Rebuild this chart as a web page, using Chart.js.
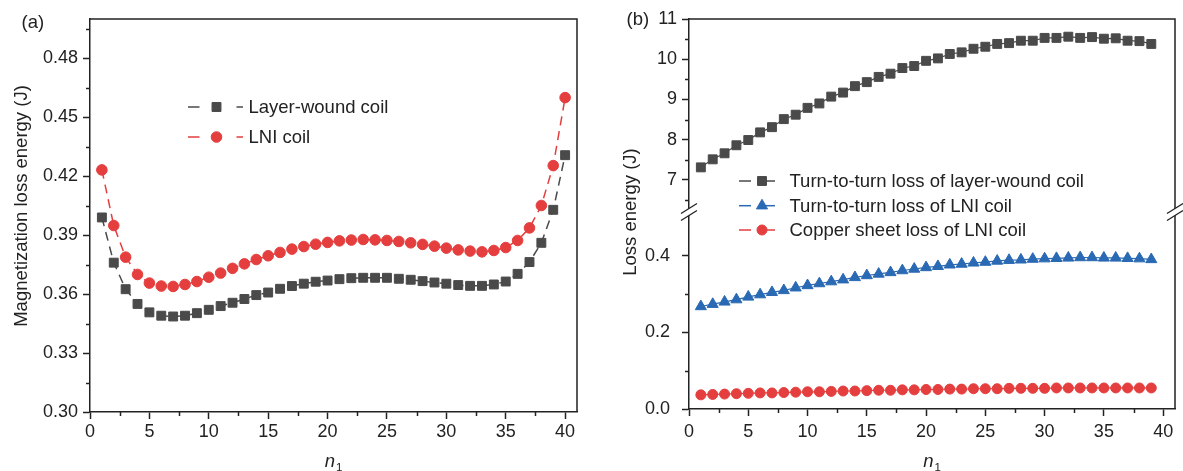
<!DOCTYPE html>
<html><head><meta charset="utf-8">
<script src="https://cdn.jsdelivr.net/npm/chart.js@4.4.0/dist/chart.umd.min.js"></script>
<style>
html,body{margin:0;padding:0;background:#fff;}
#wrap{position:relative;width:1183px;height:471px;overflow:hidden;background:#fff;}
#ca{position:absolute;left:0;top:0;}
#cb{position:absolute;left:590px;top:0;}
</style></head><body>
<div id="wrap"><canvas id="ca" width="590" height="471"></canvas><canvas id="cb" width="593" height="471"></canvas></div>
<script>
// ---------- data (panel a) ----------
const nA = [1,2,3,4,5,6,7,8,9,10,11,12,13,14,15,16,17,18,19,20,21,22,23,24,25,26,27,28,29,30,31,32,33,34,35,36,37,38,39,40];
const layerWoundMag = [0.3990,0.3760,0.3625,0.3550,0.3507,0.3490,0.3486,0.3490,0.3503,0.3520,0.3539,0.3556,0.3575,0.3595,0.3608,0.3627,0.3641,0.3653,0.3663,0.3669,0.3676,0.3681,0.3683,0.3683,0.3683,0.3678,0.3673,0.3666,0.3659,0.3653,0.3646,0.3642,0.3642,0.3649,0.3664,0.3703,0.3763,0.3861,0.4029,0.4307];
const lniMag = [0.4232,0.3949,0.3788,0.3700,0.3656,0.3641,0.3639,0.3649,0.3664,0.3686,0.3707,0.3731,0.3754,0.3776,0.3795,0.3812,0.3829,0.3842,0.3854,0.3863,0.3871,0.3875,0.3878,0.3876,0.3873,0.3868,0.3861,0.3853,0.3844,0.3834,0.3825,0.3819,0.3815,0.3822,0.3837,0.3873,0.3937,0.4051,0.4254,0.4600];
// ---------- data (panel b) ----------
const nB = [1,2,3,4,5,6,7,8,9,10,11,12,13,14,15,16,17,18,19,20,21,22,23,24,25,26,27,28,29,30,31,32,33,34,35,36,37,38,39];
const layerTurnLoss = [7.31,7.51,7.66,7.86,7.99,8.18,8.31,8.51,8.62,8.79,8.90,9.07,9.17,9.33,9.43,9.56,9.64,9.78,9.83,9.96,10.02,10.13,10.17,10.26,10.31,10.38,10.40,10.46,10.46,10.53,10.53,10.56,10.53,10.55,10.51,10.52,10.46,10.45,10.38];
const lniTurnLoss = [0.268,0.274,0.280,0.286,0.293,0.299,0.305,0.310,0.317,0.323,0.328,0.333,0.338,0.344,0.349,0.353,0.357,0.362,0.366,0.370,0.373,0.377,0.379,0.382,0.384,0.387,0.389,0.390,0.392,0.393,0.394,0.395,0.396,0.396,0.395,0.395,0.394,0.393,0.391];
const copperSheetLoss = [0.037,0.038,0.039,0.040,0.041,0.042,0.042,0.043,0.044,0.045,0.045,0.046,0.047,0.047,0.048,0.049,0.049,0.050,0.050,0.051,0.051,0.052,0.052,0.053,0.053,0.053,0.054,0.054,0.054,0.054,0.055,0.055,0.055,0.055,0.055,0.055,0.055,0.055,0.055];
// ---------- ticks ----------
const xMajorTicks = [0,5,10,15,20,25,30,35,40];
const xTickLabels = ['0','5','10','15','20','25','30','35','40'];
const xMinorTicks = [2.5,7.5,12.5,17.5,22.5,27.5,32.5,37.5];
const yMajorTicksA = [0.30,0.33,0.36,0.39,0.42,0.45,0.48];
const yTickLabelsA = ['0.30','0.33','0.36','0.39','0.42','0.45','0.48'];
const yMinorTicksA = [0.315,0.345,0.375,0.405,0.435,0.465,0.495];
const yMajorTicksBTop = [7,8,9,10,11];
const yTickLabelsBTop = ['7','8','9','10','11'];
const yMinorTicksBTop = [6.5,7.5,8.5,9.5,10.5];
const yMajorTicksBBot = [0,0.2,0.4];
const yTickLabelsBBot = ['0.0','0.2','0.4'];
const yMinorTicksBBot = [0.1,0.3];
// ---------- text ----------
const legendLabelsA = ['Layer-wound coil','LNI coil'];
const legendLabelsB = ['Turn-to-turn loss of layer-wound coil','Turn-to-turn loss of LNI coil','Copper sheet loss of LNI coil'];
const yTitleA = 'Magnetization loss energy (J)';
const yTitleB = 'Loss energy (J)';
const xTitleMain = 'n';
const xTitleSub = '1';
const panelLabels = ['(a)','(b)'];

// ---------- styling ----------
const FONT = '"Liberation Sans", Arial, "DejaVu Sans", sans-serif';
const AX = '#222222';
const TXT = '#222222';
const GRAY = '#4a4a4a';
const RED = '#e53e3e';
const BLUE = '#2a69b3';

function fixedTicks(values){ return s => { s.ticks = values.map(v => ({value: v})); }; }
function axisOpts(extra, values, labels, pad){
  return Object.assign({
    type: 'linear',
    border: {display: true, color: AX, width: 1.5},
    grid: {drawOnChartArea: false, drawTicks: true, tickLength: 7, tickColor: AX, tickWidth: 1.5},
    ticks: {autoSkip: false, maxRotation: 0, minRotation: 0, color: TXT, font: {family: FONT, size: 18}, padding: pad,
            callback: (v, i) => labels[i]},
    afterBuildTicks: fixedTicks(values)
  }, extra);
}
function yFit(w){ return s => { s.width = w; s.paddingTop = 0; s.paddingBottom = 0; }; }
function pts(xs, ys){ return xs.map((x, i) => ({x: x, y: ys[i]})); }
function ds(label, data, color, style, r, dash, bw, yAxisID){
  const d = {label, data, borderColor: color, backgroundColor: color, pointBackgroundColor: color,
    pointBorderColor: color, pointBorderWidth: 1, pointStyle: style, pointRadius: r, pointHoverRadius: r,
    borderWidth: bw, borderDash: dash, tension: 0, fill: false};
  if (yAxisID) d.yAxisID = yAxisID;
  return d;
}
function marker(ctx, style, r, x, y){
  if (Chart.helpers && Chart.helpers.drawPoint) {
    Chart.helpers.drawPoint(ctx, {pointStyle: style, radius: r, rotation: 0, borderWidth: 1}, x, y);
  }
}
function minorTicksPlugin(list){
  return {id: 'minorTicks', afterDraw(chart){
    const ctx = chart.ctx; ctx.save(); ctx.strokeStyle = AX; ctx.lineWidth = 1.5;
    list.forEach(({id, values}) => {
      const s = chart.scales[id];
      values.forEach(v => {
        const p = Math.round(s.getPixelForValue(v)) + 0.5;
        ctx.beginPath();
        if (s.isHorizontal()) { ctx.moveTo(p, s.top); ctx.lineTo(p, s.top + 4); }
        else { ctx.moveTo(s.right - 4, p); ctx.lineTo(s.right, p); }
        ctx.stroke();
      });
    });
    ctx.restore();
  }};
}
const framePlugin = {id: 'frame', afterDraw(chart){
  const a = chart.chartArea, ctx = chart.ctx;
  ctx.save(); ctx.strokeStyle = AX; ctx.lineWidth = 1.5;
  ctx.beginPath(); ctx.moveTo(a.left, a.top); ctx.lineTo(a.right, a.top); ctx.lineTo(a.right, a.bottom); ctx.stroke();
  ctx.restore();
}};
function legendPlugin(items){
  return {id: 'customLegend', afterDraw(chart){
    const ctx = chart.ctx;
    items.forEach(it => {
      ctx.save();
      ctx.strokeStyle = it.color; ctx.lineWidth = 1.5;
      it.segs.forEach(([a, b]) => { ctx.beginPath(); ctx.moveTo(a, it.y); ctx.lineTo(b, it.y); ctx.stroke(); });
      ctx.fillStyle = it.color; ctx.strokeStyle = it.color; ctx.lineWidth = 1;
      marker(ctx, it.style, it.r, it.mx, it.y);
      ctx.fillStyle = TXT; ctx.font = '18.5px ' + FONT; ctx.textBaseline = 'middle'; ctx.textAlign = 'left';
      ctx.fillText(it.label, it.tx, it.y + 1);
      ctx.restore();
    });
  }};
}
function titlesPlugin(cfg){
  return {id: 'titles', afterDraw(chart){
    const a = chart.chartArea, ctx = chart.ctx;
    ctx.save(); ctx.fillStyle = TXT;
    ctx.save(); ctx.translate(cfg.yBase, cfg.yCenter); ctx.rotate(-Math.PI / 2);
    ctx.font = '18.5px ' + FONT; ctx.textAlign = 'center'; ctx.textBaseline = 'alphabetic';
    ctx.fillText(cfg.yTitle, 0, 0); ctx.restore();
    ctx.font = 'italic 18.5px ' + FONT; const w1 = ctx.measureText(xTitleMain).width;
    ctx.font = '11.5px ' + FONT; const w2 = ctx.measureText(xTitleSub).width;
    const cx = (a.left + a.right) / 2; const x0 = cx - (w1 + w2 + 1) / 2;
    ctx.textAlign = 'left'; ctx.textBaseline = 'alphabetic';
    ctx.font = 'italic 18.5px ' + FONT; ctx.fillText(xTitleMain, x0, 466.5);
    ctx.font = '11.5px ' + FONT; ctx.fillText(xTitleSub, x0 + w1 + 1, 471);
    ctx.font = '18.5px ' + FONT; ctx.fillText(cfg.panel, cfg.px, cfg.py);
    ctx.restore();
  }};
}
const breakPlugin = {id: 'axisBreak', afterDraw(chart){
  const a = chart.chartArea, ctx = chart.ctx;
  const y = chart.scales.yTop.bottom;
  ctx.save();
  [a.left, a.right].forEach(x => {
    const hw = 8, hr = 5, off = 3.5;
    ctx.fillStyle = '#ffffff';
    ctx.beginPath();
    ctx.moveTo(x - hw, y - off + hr); ctx.lineTo(x + hw, y - off - hr);
    ctx.lineTo(x + hw, y + off - hr); ctx.lineTo(x - hw, y + off + hr); ctx.closePath(); ctx.fill();
    ctx.strokeStyle = AX; ctx.lineWidth = 1.3;
    ctx.beginPath(); ctx.moveTo(x - hw, y - off + hr); ctx.lineTo(x + hw, y - off - hr); ctx.stroke();
    ctx.beginPath(); ctx.moveTo(x - hw, y + off + hr); ctx.lineTo(x + hw, y + off - hr); ctx.stroke();
  });
  ctx.restore();
}};

// ---------- chart (a) ----------
new Chart(document.getElementById('ca').getContext('2d'), {
  type: 'line',
  data: {datasets: [
    ds(legendLabelsA[0], pts(nA, layerWoundMag), GRAY, 'rect', 6.3, [9, 6], 1.5),
    ds(legendLabelsA[1], pts(nA, lniMag), RED, 'circle', 5.3, [9, 6], 1.5)
  ]},
  options: {
    responsive: false, animation: false, devicePixelRatio: 1,
    layout: {padding: {left: 0, right: 13, top: 19, bottom: 0}},
    plugins: {legend: {display: false}, tooltip: {enabled: false}},
    scales: {
      x: axisOpts({min: 0, max: 41, position: 'bottom', afterFit: s => { s.height = 59; }}, xMajorTicks, xTickLabels, 2.5),
      y: axisOpts({min: 0.30, max: 0.50, position: 'left', afterFit: yFit(90)}, yMajorTicksA, yTickLabelsA, 5)
    }
  },
  plugins: [framePlugin,
    minorTicksPlugin([{id: 'x', values: xMinorTicks}, {id: 'y', values: yMinorTicksA}]),
    legendPlugin([
      {label: legendLabelsA[0], color: GRAY, style: 'rect', r: 6.3, y: 107, segs: [[188, 199.5], [236.5, 243]], mx: 216.5, tx: 248.5},
      {label: legendLabelsA[1], color: RED, style: 'circle', r: 5.3, y: 137, segs: [[188, 199.5], [236.5, 243]], mx: 216.5, tx: 248.5}
    ]),
    titlesPlugin({yTitle: yTitleA, yBase: 26.7, yCenter: 206, panel: panelLabels[0], px: 21.5, py: 27.5})
  ]
});

// ---------- chart (b) ----------
new Chart(document.getElementById('cb').getContext('2d'), {
  type: 'line',
  data: {datasets: [
    ds(legendLabelsB[0], pts(nB, layerTurnLoss), GRAY, 'rect', 6.3, [], 1.2, 'yTop'),
    ds(legendLabelsB[1], pts(nB, lniTurnLoss), BLUE, 'triangle', 6.4, [], 1.2, 'yBot'),
    ds(legendLabelsB[2], pts(nB, copperSheetLoss), RED, 'circle', 5.0, [], 1.2, 'yBot')
  ]},
  options: {
    responsive: false, animation: false, devicePixelRatio: 1,
    layout: {padding: {left: 0, right: 8, top: 19, bottom: 0}},
    plugins: {legend: {display: false}, tooltip: {enabled: false}},
    scales: {
      x: axisOpts({min: 0, max: 41, position: 'bottom', afterFit: s => { s.height = 62; }}, xMajorTicks, xTickLabels, 5),
      yBot: axisOpts({min: 0, max: 0.515, position: 'left', stack: 'v', stackWeight: 197, weight: 1, afterFit: yFit(99)}, yMajorTicksBBot, yTickLabelsBBot, 12),
      yTop: axisOpts({min: 6.2, max: 11, position: 'left', stack: 'v', stackWeight: 193, weight: 2, afterFit: yFit(99)}, yMajorTicksBTop, yTickLabelsBTop, 5)
    }
  },
  plugins: [framePlugin,
    minorTicksPlugin([{id: 'x', values: xMinorTicks}, {id: 'yTop', values: yMinorTicksBTop}, {id: 'yBot', values: yMinorTicksBBot}]),
    breakPlugin,
    legendPlugin([
      {label: legendLabelsB[0], color: GRAY, style: 'rect', r: 6.3, y: 181, segs: [[149, 161], [172, 185]], mx: 172, tx: 199.5},
      {label: legendLabelsB[1], color: BLUE, style: 'triangle', r: 6.4, y: 205.7, segs: [[149, 161], [172, 185]], mx: 172, tx: 199.5},
      {label: legendLabelsB[2], color: RED, style: 'circle', r: 5.0, y: 230, segs: [[149, 161], [172, 185]], mx: 172, tx: 199.5}
    ]),
    titlesPlugin({yTitle: yTitleB, yBase: 46, yCenter: 212, panel: panelLabels[1], px: 36.5, py: 24.5})
  ]
});
</script>
</body></html>
